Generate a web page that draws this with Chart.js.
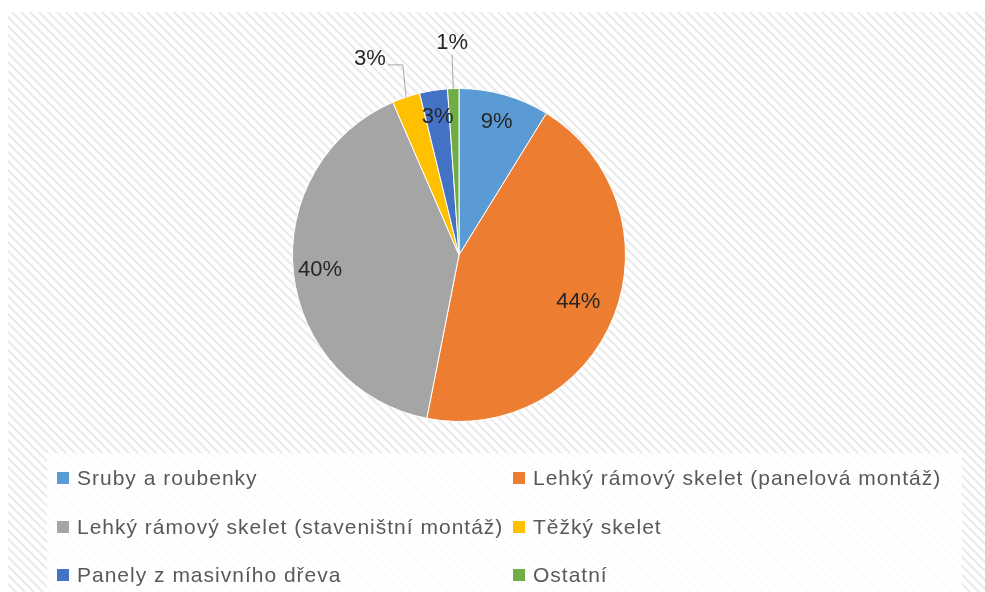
<!DOCTYPE html>
<html>
<head>
<meta charset="utf-8">
<script src="https://cdn.jsdelivr.net/npm/chart.js"></script>
<style>
  html, body { margin: 0; padding: 0; background: #fff; }
  #wrap { width: 985px; height: 592px; position: relative; }
</style>
</head>
<body>
<div id="wrap"><canvas id="pie" width="985" height="592"></canvas></div>
<script>
// dados (podíl konstrukčních systémů, %)
const kategorie = [
  'Sruby a roubenky',
  'Lehký rámový skelet (panelová montáž)',
  'Lehký rámový skelet (staveništní montáž)',
  'Těžký skelet',
  'Panely z masivního dřeva',
  'Ostatní'
];
const hodnoty = [8.8, 44.3, 40.4, 2.7, 2.7, 1.1];
const barvy = ['#5b9bd5', '#ed7d31', '#a5a5a5', '#ffc000', '#4472c4', '#70ad47'];

// styl popisků: poměr poloměru uvnitř výseče, null = popisek venku s vodicí čarou
const popiskyUvnitr = [0.83, 0.77, 0.84, null, 0.84, null];

const FONT = "'Liberation Sans', Arial, sans-serif";

// pozadí se šrafováním + bílý box legendy
const pozadiPlugin = {
  id: 'pozadi',
  beforeDraw(chart) {
    const { ctx } = chart;
    ctx.save();
    ctx.fillStyle = '#fff';
    ctx.fillRect(0, 0, chart.width, chart.height);

    const tile = document.createElement('canvas');
    tile.width = 9; tile.height = 9;
    const t = tile.getContext('2d');
    t.fillStyle = '#fff';
    t.fillRect(0, 0, 9, 9);
    t.strokeStyle = '#ebebeb';
    t.lineWidth = 2.2;
    t.beginPath();
    t.moveTo(-2, -2); t.lineTo(11, 11);
    t.moveTo(-11, -2); t.lineTo(2, 11);
    t.moveTo(7, -2); t.lineTo(20, 11);
    t.stroke();
    ctx.fillStyle = ctx.createPattern(tile, 'repeat');
    ctx.fillRect(8, 12, chart.width - 8, chart.height - 12);

    ctx.fillStyle = 'rgba(255,255,255,0.82)';
    ctx.fillRect(47, 453, 915, chart.height - 453);
    ctx.restore();
  }
};

// procentní popisky
const popiskyPlugin = {
  id: 'popisky',
  afterDatasetsDraw(chart) {
    const { ctx } = chart;
    const data = chart.data.datasets[0].data;
    const total = data.reduce((a, b) => a + b, 0);
    const meta = chart.getDatasetMeta(0);
    ctx.save();
    ctx.font = '22px ' + FONT;
    ctx.fillStyle = '#262626';
    meta.data.forEach((arc, i) => {
      const { x, y, startAngle, endAngle, outerRadius } = arc.getProps(['x', 'y', 'startAngle', 'endAngle', 'outerRadius'], true);
      const a = (startAngle + endAngle) / 2;
      const txt = Math.round(data[i] / total * 100) + '%';
      const f = popiskyUvnitr[i];
      if (f) {
        ctx.textAlign = 'center';
        ctx.textBaseline = 'middle';
        ctx.fillText(txt, x + Math.cos(a) * outerRadius * f, y + Math.sin(a) * outerRadius * f);
        return;
      }
      // venkovní popisek s vodicí čarou
      const x0 = x + Math.cos(a) * outerRadius, y0 = y + Math.sin(a) * outerRadius;
      const r1 = outerRadius + 34;
      const x1 = x + Math.cos(a) * r1, y1 = y + Math.sin(a) * r1;
      ctx.strokeStyle = '#a6a6a6';
      ctx.lineWidth = 1;
      ctx.beginPath();
      ctx.moveTo(x0, y0);
      if (Math.abs(Math.cos(a)) < 0.1) {
        ctx.lineTo(x1, y1);
        ctx.stroke();
        ctx.textAlign = 'center';
        ctx.textBaseline = 'alphabetic';
        ctx.fillText(txt, x1, y1 - 6);
      } else {
        const dir = Math.cos(a) < 0 ? -1 : 1;
        // lom čáry trochu strměji, jako v Excelu
        const xe = x0 + (x1 - x0) * 0.3;
        ctx.lineTo(xe, y1);
        ctx.lineTo(xe + dir * 15, y1);
        ctx.stroke();
        ctx.textAlign = dir < 0 ? 'right' : 'left';
        ctx.textBaseline = 'alphabetic';
        ctx.fillText(txt, xe + dir * 17, y1);
      }
    });
    ctx.restore();
  }
};

// legenda ve dvou sloupcích
const legendaPlugin = {
  id: 'legenda',
  afterDraw(chart) {
    const { ctx } = chart;
    const sloupce = [57, 513];
    const radky = [478, 527, 575];
    ctx.save();
    ctx.font = '21px ' + FONT;
    ctx.letterSpacing = '1px';
    ctx.textBaseline = 'middle';
    ctx.textAlign = 'left';
    chart.data.labels.forEach((lab, i) => {
      const lx = sloupce[i % 2], ly = radky[Math.floor(i / 2)];
      ctx.fillStyle = chart.data.datasets[0].backgroundColor[i];
      ctx.fillRect(lx, ly - 6, 12, 12);
      ctx.fillStyle = '#595959';
      ctx.fillText(lab, lx + 20, ly + 1);
    });
    ctx.restore();
  }
};

new Chart(document.getElementById('pie').getContext('2d'), {
  type: 'pie',
  data: {
    labels: kategorie,
    datasets: [{
      data: hodnoty,
      backgroundColor: barvy,
      borderColor: '#fff',
      borderWidth: 1
    }]
  },
  options: {
    responsive: false,
    animation: false,
    layout: { padding: { top: 88, bottom: 170, left: 292, right: 359 } },
    plugins: {
      legend: { display: false },
      tooltip: { enabled: false }
    }
  },
  plugins: [pozadiPlugin, popiskyPlugin, legendaPlugin]
});
</script>
</body>
</html>
